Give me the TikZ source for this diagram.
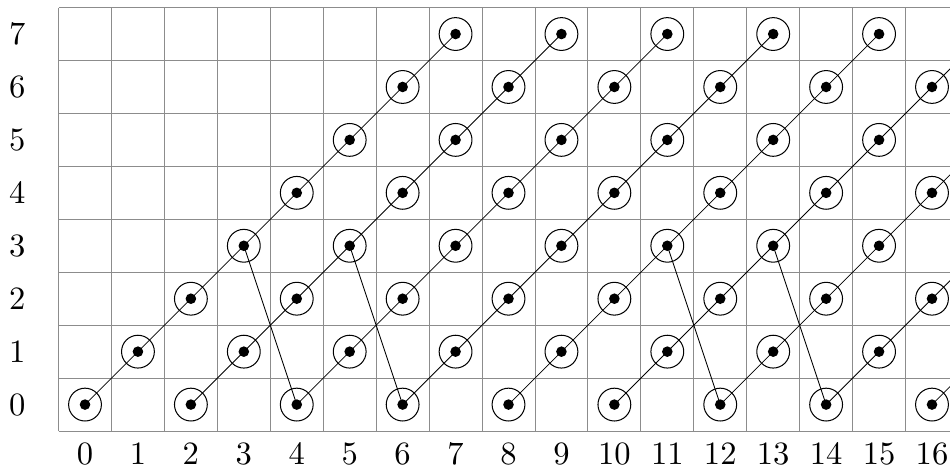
\documentclass[tikz,border=0pt]{standalone}
\usetikzlibrary{calc}
\begin{document}
\begin{tikzpicture}[x=1cm,y=1cm,
  gridline/.style={draw=gray!90, line width=0.5pt},
  ring/.style={circle, draw=black, line width=0.55pt, minimum size=0.62cm, inner sep=0pt},
  dotmark/.style={circle, fill=black, minimum size=0.2cm, inner sep=0pt},
  link/.style={draw=black, line width=0.45pt},
  lbl/.style={scale=1.75}]
\useasboundingbox (-1.606,-1.21) rectangle (16.34,7.643);
\begin{scope}
\clip (-1.606,-1.21) rectangle (16.34,7.643);
% grid
\foreach \i in {0,...,17} \draw[gridline] (\i-0.5,-0.5) -- (\i-0.5,7.5);
\foreach \j in {0,...,8} \draw[gridline] (-0.5,\j-0.5) -- (16.8,\j-0.5);
% points
\foreach \r/\cols in {0/{0,2,4,6,8,10,12,14,16},1/{1,3,5,7,9,11,13,15},2/{2,4,6,8,10,12,14,16},3/{3,5,7,9,11,13,15},4/{4,6,8,10,12,14,16},5/{5,7,9,11,13,15},6/{6,8,10,12,14,16},7/{7,9,11,13,15}}{
  \foreach \c in \cols {
    \node[ring] (p-\c-\r) at (\c,\r) {};
  }
}
\coordinate (e1) at (17,1);
\coordinate (e3) at (17,3);
\coordinate (e5) at (17,5);
\coordinate (e7) at (17,7);
% diagonals
\draw[link] (p-0-0.center) -- (p-7-7.center);
\draw[link] (p-2-0.center) -- (p-9-7.center);
\draw[link] (p-4-0.center) -- (p-11-7.center);
\draw[link] (p-6-0.center) -- (p-13-7.center);
\draw[link] (p-8-0.center) -- (p-15-7.center);
\draw[link] (p-10-0.center) -- (p-16-6.center) -- (e7);
\draw[link] (p-12-0.center) -- (p-16-4.center) -- (e5);
\draw[link] (p-14-0.center) -- (p-16-2.center) -- (e3);
\draw[link] (p-16-0.center) -- (e1);
% back links
\draw[link] (p-3-3.center) -- (p-4-0.center);
\draw[link] (p-5-3.center) -- (p-6-0.center);
\draw[link] (p-11-3.center) -- (p-12-0.center);
\draw[link] (p-13-3.center) -- (p-14-0.center);
% dots
\foreach \r/\cols in {0/{0,2,4,6,8,10,12,14,16},1/{1,3,5,7,9,11,13,15},2/{2,4,6,8,10,12,14,16},3/{3,5,7,9,11,13,15},4/{4,6,8,10,12,14,16},5/{5,7,9,11,13,15},6/{6,8,10,12,14,16},7/{7,9,11,13,15}}{
  \foreach \c in \cols {
    \node[dotmark] (d-\c-\r) at (p-\c-\r.center) {};
  }
}
\end{scope}
% labels
\foreach \r in {0,...,7} \node[lbl] (rl-\r) at (-1.28,\r) {$\r$};
\foreach \c in {0,...,16} \node[lbl] (cl-\c) at (\c,-0.93) {$\c$};
\end{tikzpicture}
\end{document}
